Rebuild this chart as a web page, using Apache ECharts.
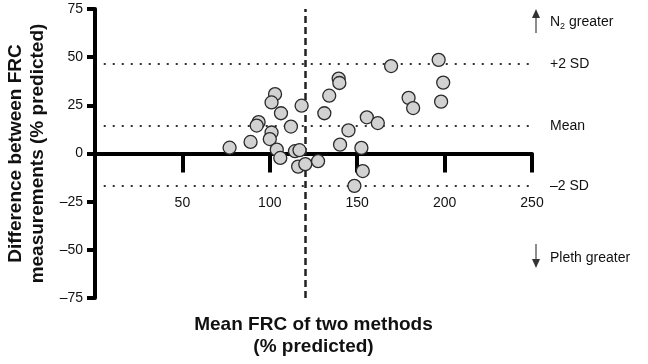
<!DOCTYPE html>
<html>
<head>
<meta charset="utf-8">
<script src="https://cdn.jsdelivr.net/npm/echarts@6/dist/echarts.min.js"></script>
<style>html,body{margin:0;padding:0;background:#fff;}#c{width:648px;height:364px;}</style>
</head>
<body>
<div id="c"></div>
<script>
// Mean FRC of two methods (% predicted)
const meanFRC = [77, 89, 93.6, 92.5, 103, 101, 106.4, 112.1, 118.2, 101, 100, 104, 106, 114.4, 117, 116.2, 120.3, 127.6, 134, 131.2, 169.4, 139.4, 139.8, 179.4, 182, 155.5, 161.8, 145, 140.2, 152.4, 153.2, 148.4, 196.6, 199.2, 198];
// Difference between FRC measurements (% predicted)
const diffFRC = [3, 6, 16.3, 14.5, 30.8, 26.5, 20.9, 14, 24.8, 10.9, 7.5, 2, -2.3, 1.2, 1.7, -6.8, -5.5, -4, 30, 20.9, 45.4, 38.9, 36.6, 28.9, 23.6, 18.8, 15.8, 12, 4.6, 2.9, -9.1, -16.8, 48.6, 36.8, 26.9];
// Reference lines: +2 SD, Mean, -2 SD
const refNames = ['+2 SD', 'Mean', '\u20132 SD'];
const refValues = [46.6, 14.4, -16.8];
const refSpan = [5, 250];
const verticalLine = 120;
const xTicks = [0, 250, 50];
const yTicks = [-75, 75, 25];

const FONT = 'Arial, "Liberation Sans", sans-serif';
const chart = echarts.init(document.getElementById('c'), null, {renderer: 'canvas'});
const points = meanFRC.map((x, i) => [x, diffFRC[i]]);

const hLines = refValues.map((v, i) => [
  {coord: [refSpan[0], v], label: {formatter: refNames[i]}},
  {coord: [refSpan[1], v]}
]);

chart.setOption({
  animation: false,
  backgroundColor: '#fff',
  grid: {left: 95, right: 116, top: 9, bottom: 66, containLabel: false, outerBoundsMode: 'none'},
  xAxis: {
    type: 'value', min: xTicks[0], max: xTicks[1], interval: xTicks[2],
    axisLine: {onZero: true, lineStyle: {color: '#000', width: 4}},
    axisTick: {show: true, length: 19, lineStyle: {color: '#000', width: 4}},
    axisLabel: {margin: -102, color: '#111', fontSize: 14, fontFamily: FONT, showMinLabel: false,
      formatter: v => v === 0 ? '' : String(v)},
    splitLine: {show: false},
    name: 'Mean FRC of two methods\n(% predicted)',
    nameLocation: 'middle', nameGap: 16,
    nameTextStyle: {fontSize: 19, fontWeight: 'bold', color: '#111', fontFamily: FONT, lineHeight: 22}
  },
  yAxis: {
    type: 'value', min: yTicks[0], max: yTicks[1], interval: yTicks[2],
    axisLine: {onZero: false, lineStyle: {color: '#000', width: 4}},
    axisTick: {show: true, length: 8, lineStyle: {color: '#000', width: 4}},
    axisLabel: {margin: 12, color: '#111', fontSize: 14, fontFamily: FONT,
      formatter: v => v < 0 ? '\u2013' + Math.abs(v) : String(v)},
    splitLine: {show: false},
    name: 'Difference between FRC\nmeasurements (% predicted)',
    nameLocation: 'middle', nameGap: 45, nameRotate: 90,
    nameTextStyle: {fontSize: 19, fontWeight: 'bold', color: '#111', fontFamily: FONT, lineHeight: 22}
  },
  series: [
    {
      type: 'scatter',
      data: points,
      symbol: 'circle', symbolSize: 13,
      itemStyle: {color: '#d2d2d2', borderColor: '#2a2a2a', borderWidth: 1.3, opacity: 1},
      z: 5,
      markLine: {
        silent: true, symbol: 'none', animation: false,
        lineStyle: {color: '#333', width: 2, type: [2, 7]},
        label: {show: true, position: 'end', distance: 18, color: '#111', fontSize: 14, fontFamily: FONT},
        data: hLines
      }
    },
    {
      type: 'scatter', data: [], z: 4,
      markLine: {
        silent: true, symbol: 'none', animation: false,
        lineStyle: {color: '#222', width: 2.5, type: [7, 4]},
        label: {show: false},
        data: [{xAxis: verticalLine}]
      }
    }
  ],
  graphic: [
    {type: 'line', shape: {x1: 536, y1: 16, x2: 536, y2: 33}, style: {stroke: '#666', lineWidth: 1.5}},
    {type: 'polygon', shape: {points: [[532, 18], [540, 18], [536, 9]]}, style: {fill: '#333'}},
    {type: 'text', x: 550, y: 22, style: {
      text: '{a|N}{s|2}{a| greater}', textVerticalAlign: 'middle',
      rich: {a: {fontSize: 14, fontFamily: FONT, fill: '#111'}, s: {fontSize: 9, fontFamily: FONT, fill: '#111', padding: [10, 0, 0, 0]}}
    }},
    {type: 'line', shape: {x1: 536, y1: 244, x2: 536, y2: 261}, style: {stroke: '#666', lineWidth: 1.5}},
    {type: 'polygon', shape: {points: [[532, 259], [540, 259], [536, 268]]}, style: {fill: '#333'}},
    {type: 'text', x: 550, y: 258, style: {
      text: 'Pleth greater', textVerticalAlign: 'middle', fontSize: 14, fontFamily: FONT, fill: '#111'
    }}
  ]
});
</script>
</body>
</html>
